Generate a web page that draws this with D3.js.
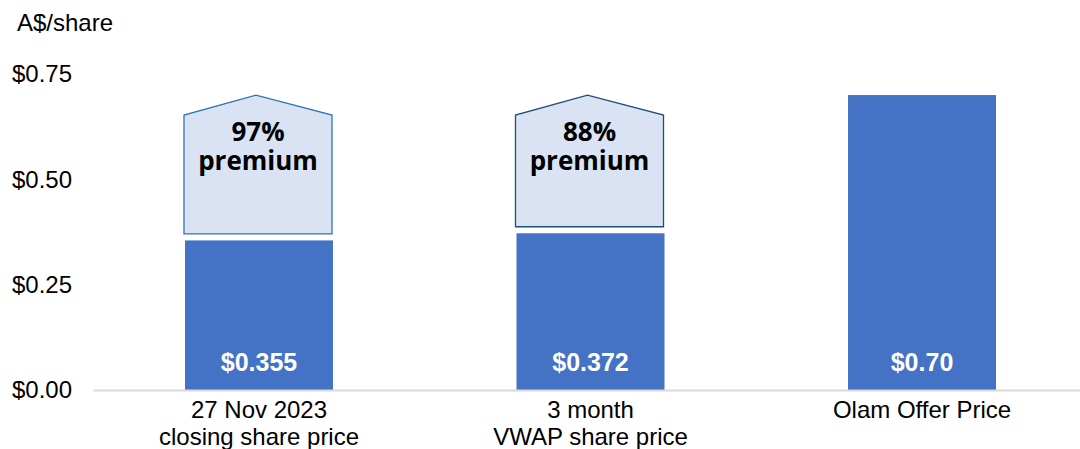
<!DOCTYPE html>
<html>
<head>
<meta charset="utf-8">
<script src="https://cdn.jsdelivr.net/npm/d3@7"></script>
<style>
  html, body { margin: 0; padding: 0; background: #fff; }
  svg { display: block; font-family: 'Liberation Sans', Arial, sans-serif; }
</style>
</head>
<body>
<svg width="1080" height="449"></svg>
<script>
// chart data
const categories = ['27 Nov 2023|closing share price', '3 month|VWAP share price', 'Olam Offer Price']
const prices = [0.355, 0.372, 0.70]
const priceLabels = ['$0.355', '$0.372', '$0.70']
const premiumLines = [['97%', 'premium'], ['88%', 'premium'], null]
const offerPrice = 0.70
const yTicks = [0, 0.25, 0.5, 0.75]

const width = 1080
const height = 449
const left = 93
const zeroY = 390
const topY = 74

const svg = d3.select('svg')

const x = d3.scaleBand()
    .domain(categories)
    .range([left, 1088])
    .paddingInner(0.5535)
    .paddingOuter(0.2775)

const y = d3.scaleLinear().domain([0, 0.75]).range([zeroY, topY])

// unit label
svg.append('text')
    .attr('x', 17)
    .attr('y', 31)
    .attr('font-size', 24)
    .attr('fill', '#000')
    .text('A$/share')

// y axis (labels only)
const yAxis = svg.append('g')
    .attr('transform', `translate(${left - 13}, 0)`)
    .call(d3.axisLeft(y).tickValues(yTicks).tickSize(0).tickPadding(8)
        .tickFormat(d => '$' + d3.format('.2f')(d)))
yAxis.select('.domain').remove()
yAxis.selectAll('.tick text')
    .attr('font-size', 24)
    .attr('font-family', "'Liberation Sans', Arial, sans-serif")
    .attr('fill', '#000')

// bars
const bars = svg.append('g')
bars.selectAll('rect')
    .data(prices)
    .join('rect')
    .attr('x', (d, i) => x(categories[i]))
    .attr('y', d => y(d))
    .attr('width', x.bandwidth())
    .attr('height', d => zeroY - y(d))
    .attr('fill', '#4472C4')

// bar value labels
bars.selectAll('text')
    .data(priceLabels)
    .join('text')
    .attr('x', (d, i) => x(categories[i]) + x.bandwidth() / 2)
    .attr('y', zeroY - 19)
    .attr('text-anchor', 'middle')
    .attr('font-size', 25)
    .attr('font-weight', 'bold')
    .attr('fill', '#fff')
    .text(d => d)

// premium arrows
const strokes = ['#2E75B6', '#1F4E79']
const arrows = svg.append('g')
premiumLines.forEach((lines, i) => {
    if (!lines) return
    const x0 = x(categories[i]) - 1
    const x1 = x0 + x.bandwidth()
    const bottom = y(prices[i]) - 6.5
    const peak = y(offerPrice)
    const shoulder = peak + 20
    const pts = [[x0, bottom], [x0, shoulder], [(x0 + x1) / 2 - 2, peak], [x1, shoulder], [x1, bottom]]
    arrows.append('path')
        .attr('d', d3.line()(pts) + 'Z')
        .attr('fill', '#DAE3F3')
        .attr('stroke', strokes[i])
        .attr('stroke-width', 1.3)
    const cx = (x0 + x1) / 2
    const label = arrows.append('text')
        .attr('text-anchor', 'middle')
        .attr('font-family', "'Open Sans', sans-serif")
        .attr('font-weight', 'bold')
        .attr('font-size', 26)
        .attr('fill', '#000')
    lines.forEach((line, j) => {
        label.append('tspan')
            .attr('x', cx)
            .attr('y', peak + 46 + j * 29)
            .text(line)
    })
})

// x axis
const xAxis = svg.append('g')
    .attr('transform', `translate(0, ${zeroY})`)
    .call(d3.axisBottom(x).tickSize(0).tickSizeOuter(0).tickFormat(''))
xAxis.select('.domain').attr('stroke', '#D9D9D9').attr('stroke-width', 2)
xAxis.selectAll('.tick').each(function (d) {
    const t = d3.select(this).select('text')
        .attr('font-size', 24)
        .attr('font-family', "'Liberation Sans', Arial, sans-serif")
        .attr('fill', '#000')
        .attr('y', 0)
        .attr('dy', null)
    d.split('|').forEach((line, j) => {
        t.append('tspan').attr('x', 0).attr('y', 28 + j * 27).text(line)
    })
})
</script>
</body>
</html>
